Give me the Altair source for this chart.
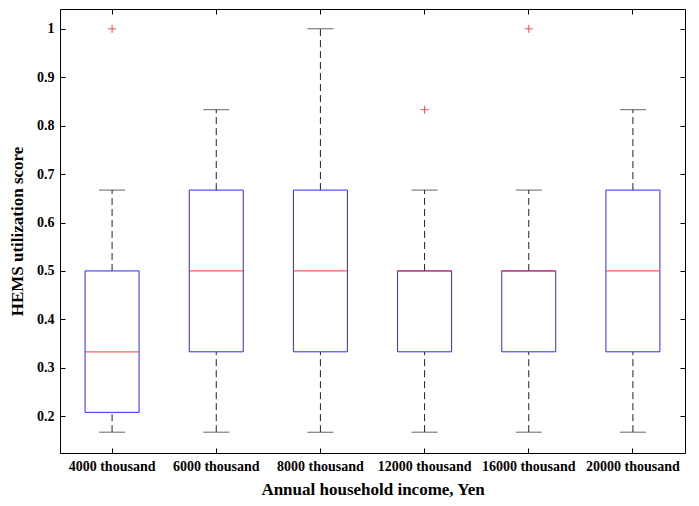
import altair as alt
import pandas as pd

cats = ["4000 thousand", "6000 thousand", "8000 thousand",
        "12000 thousand", "16000 thousand", "20000 thousand"]
lower = [0.167, 0.167, 0.167, 0.167, 0.167, 0.167]
q1 = [0.208, 0.333, 0.333, 0.333, 0.333, 0.333]
med = [0.333, 0.5, 0.5, 0.5, 0.5, 0.5]
q3 = [0.5, 0.667, 0.667, 0.5, 0.5, 0.667]
upper = [0.667, 0.833, 1.0, 0.667, 0.667, 0.833]
outlier_cats = ["4000 thousand", "12000 thousand", "16000 thousand"]
outlier_vals = [1.0, 0.833, 1.0]
y_ticks = [0.2, 0.3, 0.4, 0.5, 0.6, 0.7, 0.8, 0.9, 1.0]

df = pd.DataFrame({"cat": cats, "lower": lower, "q1": q1, "med": med,
                   "q3": q3, "upper": upper})
out = pd.DataFrame({"cat": outlier_cats, "val": outlier_vals})

FONT = "Liberation Serif"
xscale = alt.Scale(domain=cats, paddingInner=0, paddingOuter=0)
yscale = alt.Scale(domain=[0.124, 1.041], nice=False, zero=False)

x_bottom = alt.Axis(title="Annual household income, Yen", orient="bottom",
                    offset=-5, tickSize=5, tickColor="black", domain=False,
                    labelAngle=0, labelFont=FONT, labelFontWeight="bold",
                    labelFontSize=14, labelColor="black", labelPadding=6,
                    titleFont=FONT, titleFontWeight="bold", titleFontSize=17,
                    titleColor="black", titlePadding=8)
y_left = alt.Axis(title="HEMS utilization score", orient="left", values=y_ticks,
                  format="~g", offset=-5, tickSize=5, tickColor="black",
                  domain=False, grid=False, labelFont=FONT,
                  labelFontWeight="bold", labelFontSize=14, labelColor="black",
                  labelPadding=6, titleFont=FONT, titleFontWeight="bold",
                  titleFontSize=17, titleColor="black", titlePadding=10)
x_top = alt.Axis(title=None, orient="top", offset=-5, tickSize=5,
                 tickColor="black", domain=False, labels=False, grid=False)
y_right = alt.Axis(title=None, orient="right", values=y_ticks, offset=-5,
                   tickSize=5, tickColor="black", domain=False, labels=False,
                   grid=False)

base = alt.Chart(df)
X = lambda ax: alt.X("cat:N", sort=cats, scale=xscale, axis=ax)

dash = [7, 4]
w_up = base.mark_rule(color="#222222", strokeDash=dash, strokeWidth=1).encode(
    x=X(x_bottom), y=alt.Y("q3:Q", scale=yscale, axis=y_left), y2="upper:Q")
w_lo = base.mark_rule(color="#222222", strokeDash=dash, strokeWidth=1).encode(
    x=X(None), y=alt.Y("lower:Q", scale=yscale, axis=None), y2="q1:Q")
cap_up = base.mark_tick(color="#222222", size=26, thickness=1).encode(
    x=X(None), y=alt.Y("upper:Q", scale=yscale, axis=None))
cap_lo = base.mark_tick(color="#222222", size=26, thickness=1).encode(
    x=X(None), y=alt.Y("lower:Q", scale=yscale, axis=None))
box = base.mark_bar(size=54, fill="white", fillOpacity=0, stroke="#2a2aff",
                    strokeWidth=1).encode(
    x=X(None), y=alt.Y("q1:Q", scale=yscale, axis=None), y2="q3:Q")
median = base.mark_tick(color="#ff1a1a", size=54, thickness=1.2).encode(
    x=X(None), y=alt.Y("med:Q", scale=yscale, axis=None))
outl = alt.Chart(out).mark_point(shape="M-1,0H1M0,-1V1", stroke="#ff0000",
                                 strokeWidth=1, size=64, filled=False).encode(
    x=alt.X("cat:N", sort=cats, scale=xscale, axis=x_top),
    y=alt.Y("val:Q", scale=yscale, axis=y_right))

chart = alt.layer(w_up, w_lo, cap_up, cap_lo, box, median, outl).resolve_axis(
    x="independent", y="independent"
).properties(
    width=625, height=444,
    padding={"left": 0, "top": 0, "right": 0, "bottom": 0},
    background="white"
).configure_view(stroke="black", strokeWidth=1)

chart.save("out.html", embed_options={"renderer": "svg", "actions": False})
